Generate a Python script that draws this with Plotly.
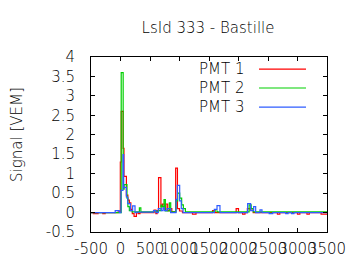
import plotly.graph_objects as go

# ---- data (step traces: time bin start [ns], signal [VEM]) ----
t_pmt1 = [-500, -460, -380, -300, -260, -40, -3, 12, 45, 59, 100, 125, 150, 175, 200, 230, 270, 300, 330,
          570, 600, 620, 645, 685, 710, 740, 770, 800, 830, 870, 935, 965, 1000, 1050, 1220, 1280, 1560, 1600,
          1960, 2000, 2070, 2110, 2150, 2200, 2250, 2660, 2700, 3000, 3040, 3160, 3200, 3400, 3500]
s_pmt1 = [0, -0.03, 0, -0.03, 0, 0.02, 1.3, 2.6, 1.65, 0.93, 0.45, 0.32, 0.25, 0.08, -0.03, -0.1, 0, -0.03, 0,
          0.06, -0.03, 0.05, 0.9, 0.15, 0.22, 0.08, 0.22, 0.05, 0.1, 0.02, 1.14, 0.1, 0.04, 0, -0.04, 0, 0.05, 0,
          0.1, 0, -0.04, 0, 0.1, 0.06, 0, -0.04, 0, -0.04, 0, -0.04, 0, -0.04, -0.04]

t_pmt2 = [-500, 12, 45, 62, 110, 125, 150, 200, 320, 345, 560, 600, 640, 687, 704, 738, 760, 828, 851,
          940, 969, 1003, 1037, 1065, 1100, 1590, 1640, 2180, 2215, 2250, 3500]
s_pmt2 = [0, 3.6, 0.6, 0.72, 0.37, 0.15, 0.05, 0.02, 0.12, 0.02, 0.05, 0.02, 0.05, 0.19, 0.15, 0.33, 0.04, 0.25, 0.02,
          0.3, 0.5, 0.37, 0.2, 0.1, 0.02, 0.04, 0.02, 0.2, 0.1, 0.02, 0.02]

t_pmt3 = [-500, -90, -20, 8, 42, 54, 99, 122, 167, 206, 246, 280, 560, 600, 640, 690, 720, 745, 790, 850,
          941, 963, 1003, 1030, 1060, 1590, 1636, 1686, 2155, 2206, 2257, 2291, 2364, 2398, 2520, 2580,
          2800, 2840, 2900, 2940, 3500]
s_pmt3 = [0, 0.05, 0, 0.57, 1.49, 0.65, 0.4, 0.23, 0.05, 0.17, 0, 0.01, 0.05, 0, 0.1, 0.05, 0.12, 0.05, 0.1, 0,
          0.34, 0.7, 0.3, 0.1, 0, 0.08, 0.18, 0, 0.23, 0.05, 0.15, 0, 0.07, 0, -0.03, 0,
          -0.03, 0, -0.03, 0, 0]

series_names = ["PMT 1", "PMT 2", "PMT 3"]
series_colors = ["#ff0000", "#00d000", "#2e5cff"]

x_ticks = [-500, 0, 500, 1000, 1500, 2000, 2500, 3000, 3500]
x_tick_labels = ["-500", "0", "500", "1000", "1500", "2000", "2500", "3000", "3500"]
y_ticks = [-0.5, 0, 0.5, 1, 1.5, 2, 2.5, 3, 3.5, 4]
y_tick_labels = ["-0.5", "0", "0.5", "1", "1.5", "2", "2.5", "3", "3.5", "4"]

FONT = "DejaVu Sans ExtraLight, DejaVu Sans Light, DejaVu Sans"

fig = go.Figure()
for t, s, name, col in zip([t_pmt1, t_pmt2, t_pmt3], [s_pmt1, s_pmt2, s_pmt3], series_names, series_colors):
    fig.add_trace(go.Scatter(x=t, y=s, mode="lines", name=name,
                             line=dict(color=col, width=1.2, shape="hv"), showlegend=False))

# gnuplot-style legend: text right-aligned, line sample to the right
leg_rows = [0.931, 0.823, 0.714]
for name, col, yy in zip(series_names, series_colors, leg_rows):
    fig.add_annotation(x=0.657, y=yy, xref="paper", yref="paper", text=name, showarrow=False,
                       xanchor="right", yanchor="middle", font=dict(family=FONT, size=15, color="black"))
    fig.add_shape(type="line", xref="paper", yref="paper", x0=0.712, x1=0.911, y0=yy, y1=yy,
                  line=dict(color=col, width=1.2))

fig.add_annotation(x=-0.314, y=0.56, xref="paper", yref="paper", text="Signal [VEM]", showarrow=False,
                   textangle=-90, xanchor="center", yanchor="middle",
                   font=dict(family=FONT, size=15, color="black"))

fig.update_layout(
    width=360, height=270,
    margin=dict(l=83, r=41, t=49, b=46),
    paper_bgcolor="white", plot_bgcolor="white",
    font=dict(family=FONT, size=15, color="black"),
    title=dict(text="LsId 333 - Bastille", x=200 / 360, xanchor="center",
               y=1 - 20 / 270, yanchor="middle", font=dict(family=FONT, size=15, color="black")),
)
fig.update_xaxes(range=[-500, 3500], tickmode="array", tickvals=x_ticks, ticktext=x_tick_labels,
                 tickangle=0, ticks="inside", ticklen=4, tickcolor="black", showline=True,
                 linecolor="black", linewidth=1, mirror="ticks", showgrid=False, zeroline=False,
                 ticklabelstandoff=3)
fig.update_yaxes(range=[-0.5, 4], tickmode="array", tickvals=y_ticks, ticktext=y_tick_labels,
                 ticks="inside", ticklen=4, tickcolor="black", showline=True,
                 linecolor="black", linewidth=1, mirror="ticks", showgrid=False, zeroline=False,
                 ticklabelstandoff=12)

fig.write_html("out.html")
